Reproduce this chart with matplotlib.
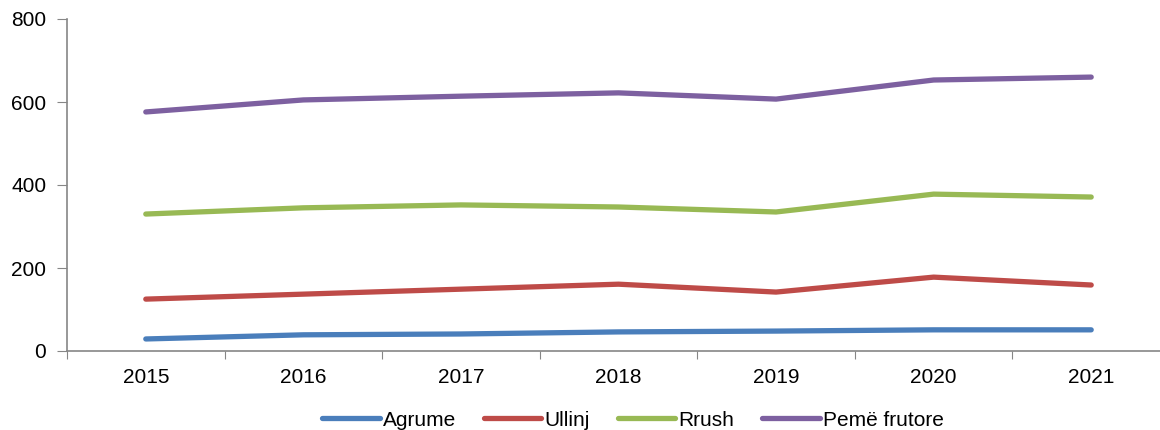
import matplotlib
matplotlib.use("Agg")
import matplotlib.pyplot as plt
import numpy as np

years = ["2015", "2016", "2017", "2018", "2019", "2020", "2021"]
agrume = [29, 39, 41, 46, 48, 51, 51]
ullinj = [125, 137, 149, 161, 142, 178, 159]
rrush = [330, 345, 352, 347, 335, 378, 371]
peme = [576, 605, 614, 622, 607, 653, 660]
series_names = ["Agrume", "Ullinj", "Rrush", "Pemë frutore"]
colors = ["#4A7EBB", "#BE4B48", "#98B954", "#7D60A0"]

plt.rcParams['font.family'] = ['Liberation Sans', 'DejaVu Sans']
plt.rcParams['font.size'] = 15

fig = plt.figure(figsize=(11.6, 4.3), dpi=100)
ax = fig.add_axes([67/1160, 79/430, (1170-67)/1160, 332/430])

x = np.arange(len(years))
for vals, name, c in zip([agrume, ullinj, rrush, peme], series_names, colors):
    ax.plot(x, vals, color=c, lw=3.8, solid_capstyle='round', label=name)

ax.set_xlim(-0.5, len(years) - 0.5)
ax.set_ylim(0, 800)
ax.set_yticks([0, 200, 400, 600, 800])
ax.set_xticks(np.arange(len(years) + 1) - 0.5)
ax.set_xticklabels([])
ax.set_xticks(x, minor=True)
ax.set_xticklabels(years, minor=True)
ax.tick_params(axis='x', which='major', length=6, color='#868686', direction='out')
ax.tick_params(axis='x', which='minor', length=0, pad=12)
ax.tick_params(axis='y', length=7, color='#868686', direction='out', pad=8)
for s in ['top', 'right']:
    ax.spines[s].set_visible(False)
for s in ['left', 'bottom']:
    ax.spines[s].set_color('#868686')
    ax.spines[s].set_linewidth(1.2)

fig.legend(loc='center', bbox_to_anchor=(0.5457, 0.023), ncol=4, frameon=False,
           handlelength=2.75, handletextpad=0.15, columnspacing=1.35, fontsize=15,
           borderpad=0, borderaxespad=0)

fig.savefig("out.png", dpi=100)
